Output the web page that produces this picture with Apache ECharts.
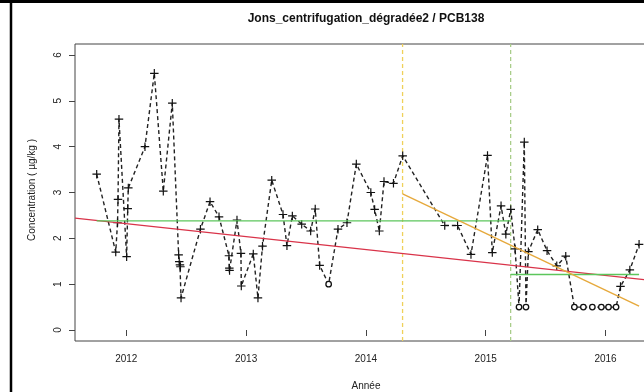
<!DOCTYPE html>
<html>
<head>
<meta charset="utf-8">
<script src="https://cdn.jsdelivr.net/npm/echarts@6/dist/echarts.min.js"></script>
<style>
html,body{margin:0;padding:0;background:#fff;}
#chart{width:644px;height:392px;}
</style>
</head>
<body>
<div id="chart"></div>
<script>
// ---- data (decimal years, concentration in µg/kg) ----
const years = [2011.753,2011.912,2011.927,2011.931,2011.939,2012.003,2012.012,2012.017,2012.156,2012.234,
  2012.309,2012.384,2012.437,2012.442,2012.448,2012.452,2012.457,2012.619,2012.699,2012.774,
  2012.857,2012.860,2012.862,2012.924,2012.957,2012.960,2013.060,2013.099,2013.137,2013.214,
  2013.308,2013.341,2013.386,2013.464,2013.539,2013.577,2013.614,2013.689,2013.767,2013.842,
  2013.920,2014.041,2014.073,2014.112,2014.151,2014.230,2014.307,2014.658,2014.765,2014.877,
  2015.015,2015.055,2015.128,2015.168,2015.209,2015.245,2015.278,2015.322,2015.336,2015.356,
  2015.434,2015.512,2015.593,2015.668,2015.740,2015.815,2015.890,2015.965,2016.025,2016.088,
  2016.125,2016.203,2016.280];
const conc = [3.40,1.70,2.34,2.85,4.60,1.60,2.65,3.10,4.00,5.60,
  3.03,4.95,1.64,1.49,1.42,1.38,0.70,2.20,2.80,2.47,
  1.62,1.35,1.30,2.40,1.67,0.96,1.66,0.70,1.83,3.27,
  2.52,1.84,2.49,2.31,2.16,2.64,1.41,1.00,2.20,2.34,
  3.62,3.00,2.63,2.16,3.24,3.20,3.80,2.28,2.28,1.65,
  3.81,1.69,2.71,2.09,2.63,1.77,0.50,4.10,0.50,1.71,
  2.19,1.73,1.40,1.61,0.50,0.50,0.50,0.50,0.50,0.50,
  0.95,1.31,1.87];
const censored = [0,0,0,0,0,0,0,0,0,0,
  0,0,0,0,0,0,0,0,0,0,
  0,0,0,0,0,0,0,0,0,0,
  0,0,0,0,0,0,0,1,0,0,
  0,0,0,0,0,0,0,0,0,0,
  0,0,0,0,0,0,1,0,1,0,
  0,0,0,0,1,1,1,1,1,1,
  0,0,0];
const xTicks = [2012,2013,2014,2015,2016];
const yTicks = [0,1,2,3,4,5,6];
// trend lines
const redT = [2011.572, 2016.463];
const redV = [2.44, 1.06];
const greenT1 = [2011.753, 2015.208];
const greenV1 = [2.38, 2.38];
const greenT2 = [2015.208, 2016.280];
const greenV2 = [1.21, 1.21];
const orangeT = [2014.306, 2016.280];
const orangeV = [2.97, 0.52];
const breakYellow = 2014.306;
const breakGreen = 2015.208;

const xMin = 2011.572, xMax = 2016.463, yMin = -0.24, yMax = 6.24;
const plus = 'path://M-0.14,-1H0.14V-0.14H1V0.14H0.14V1H-0.14V0.14H-1V-0.14H-0.14Z';

const pts = years.map((t,i)=> censored[i]
  ? {value:[t,conc[i]], symbol:'circle', symbolSize:5.5, itemStyle:{color:'#fff', borderColor:'#111', borderWidth:1.3}}
  : {value:[t,conc[i]], symbol:plus, symbolSize:8.5, itemStyle:{color:'#111', borderWidth:0}});

function seg(T,V){ return T.map((t,i)=>[t,V[i]]); }

const chart = echarts.init(document.getElementById('chart'));
const FONT = '"Liberation Sans", Arial, sans-serif';
chart.setOption({
  animation:false,
  backgroundColor:'#fff',
  grid:{left:75, top:44, right:-17, bottom:51, show:true, borderColor:'#444', borderWidth:1, containLabel:false, outerBoundsMode:'none'},
  xAxis:{type:'value', min:xMin, max:xMax,
    axisLine:{show:false},
    axisTick:{show:true, customValues:xTicks, length:6, lineStyle:{color:'#444'}},
    axisLabel:{customValues:xTicks, fontSize:10, color:'#222', margin:13, fontFamily:FONT, formatter:v=>String(v)},
    splitLine:{show:false}},
  yAxis:{type:'value', min:yMin, max:yMax,
    axisLine:{show:false},
    axisTick:{show:true, customValues:yTicks, length:6, lineStyle:{color:'#444'}},
    axisLabel:{customValues:yTicks, rotate:90, fontSize:10, color:'#222', margin:12, fontFamily:FONT, formatter:v=>String(v)},
    splitLine:{show:false}},
  graphic:[
    {type:'text', x:366, y:19, style:{text:'Jons_centrifugation_dégradée2 / PCB138', font:'bold 12px '+FONT, fill:'#111', textAlign:'center', textVerticalAlign:'middle'}},
    {type:'text', x:32, y:190, rotation:Math.PI/2, style:{text:'Concentration ( µg/kg )', font:'10px '+FONT, fill:'#222', textAlign:'center', textVerticalAlign:'middle'}},
    {type:'text', x:366, y:386, style:{text:'Année', font:'10px '+FONT, fill:'#222', textAlign:'center', textVerticalAlign:'middle'}},
    {type:'line', shape:{x1:11, y1:0, x2:11, y2:392}, style:{stroke:'#000', lineWidth:2.5}},
    {type:'line', shape:{x1:0, y1:1.5, x2:644, y2:1.5}, style:{stroke:'#000', lineWidth:3}}
  ],
  series:[
    {type:'line', data:seg([breakYellow,breakYellow],[yMin,yMax]), symbol:'none', silent:true, z:1,
      lineStyle:{color:'#efd15a', width:1.3, type:[4,3]}},
    {type:'line', data:seg([breakGreen,breakGreen],[yMin,yMax]), symbol:'none', silent:true, z:1,
      lineStyle:{color:'#a9cd8a', width:1.3, type:[4,3]}},
    {type:'line', data:pts, z:2, lineStyle:{color:'#222', width:1.4, type:[4,3]}},
    {type:'line', data:seg(redT,redV), symbol:'none', z:3, lineStyle:{color:'#d93349', width:1.4}},
    {type:'line', data:seg(greenT1,greenV1), symbol:'none', z:3, lineStyle:{color:'#5cc65c', width:1.4}},
    {type:'line', data:seg(greenT2,greenV2), symbol:'none', z:3, lineStyle:{color:'#5cc65c', width:1.4}},
    {type:'line', data:seg(orangeT,orangeV), symbol:'none', z:3, lineStyle:{color:'#e6a93c', width:1.4}}
  ]
});
</script>
</body>
</html>
